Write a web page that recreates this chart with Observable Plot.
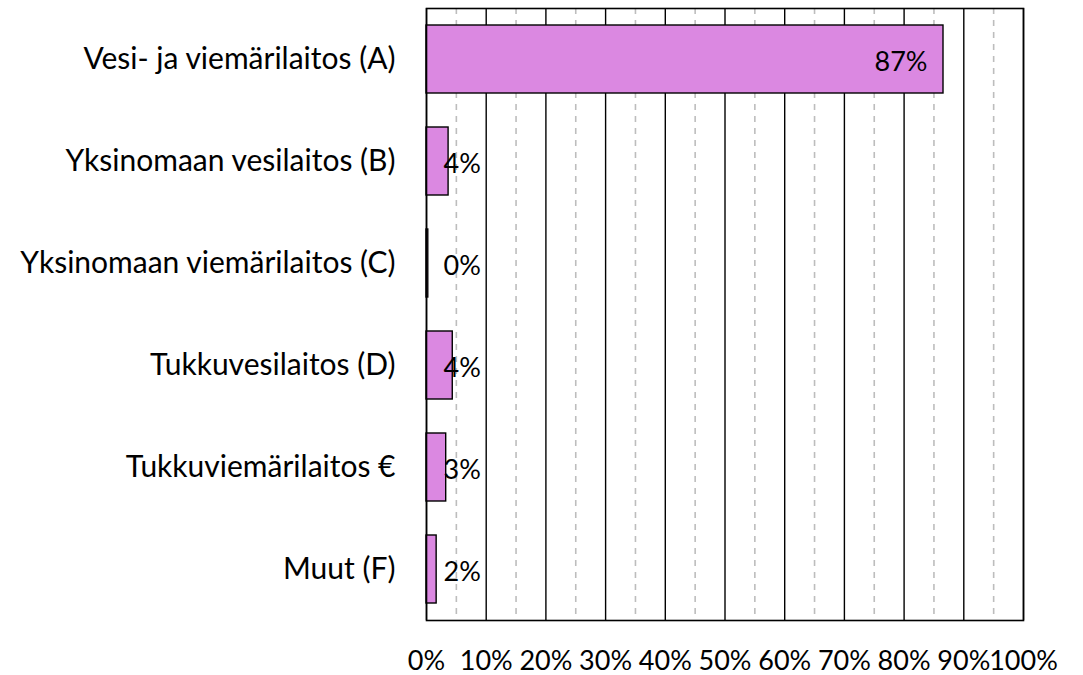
<!DOCTYPE html>
<html>
<head>
<meta charset="utf-8">
<script src="https://cdn.jsdelivr.net/npm/d3@7"></script>
<script src="https://cdn.jsdelivr.net/npm/@observablehq/plot@0.6"></script>
<style>
  html, body { margin: 0; padding: 0; background: #fff; }
  #chart svg { display: block; }
</style>
</head>
<body>
<div id="chart"></div>
<script>
const categories = [
  "Vesi- ja viemärilaitos (A)",
  "Yksinomaan vesilaitos (B)",
  "Yksinomaan viemärilaitos (C)",
  "Tukkuvesilaitos (D)",
  "Tukkuviemärilaitos €",
  "Muut (F)"
];
const values = [86.6, 3.7, 0.3, 4.4, 3.3, 1.7];
const valueLabels = ["87%", "4%", "0%", "4%", "3%", "2%"];
const majorTicks = [0, 10, 20, 30, 40, 50, 60, 70, 80, 90, 100];
const minorTicks = [5, 15, 25, 35, 45, 55, 65, 75, 85, 95];

const data = categories.map((c, i) => ({category: c, value: values[i], label: valueLabels[i]}));

const font = "Lato, 'Open Sans', sans-serif";

const chart = Plot.plot({
  width: 1083,
  height: 675,
  marginLeft: 426,
  marginRight: 60,
  marginTop: 8,
  marginBottom: 55,
  style: {fontFamily: font, fontSize: "27px", color: "#000", background: "#fff"},
  x: {domain: [0, 100], ticks: majorTicks, tickFormat: d => d + "%", tickSize: 0, tickPadding: 30, label: null},
  y: {domain: categories, paddingInner: 0.333, paddingOuter: 0.1665, tickSize: 0, tickPadding: 31, label: null},
  marks: [
    Plot.ruleX(minorTicks, {stroke: "#bdbdbd", strokeWidth: 1.6, strokeDasharray: "6,6"}),
    Plot.ruleX(majorTicks, {stroke: "#000", strokeWidth: 1.4}),
    Plot.barX(data, {y: "category", x: "value", fill: "#DB88E1", stroke: "#000", strokeWidth: 1.4}),
    Plot.text(data.filter(d => d.value >= 10), {y: "category", x: "value", text: "label", textAnchor: "end", dx: -16, dy: 3, fill: "#000", fontSize: 27}),
    Plot.text(data.filter(d => d.value < 10), {y: "category", x: () => 0, text: "label", textAnchor: "start", dx: 17, dy: 3, fill: "#000", fontSize: 27}),
    Plot.axisY({tickSize: 0, tickPadding: 31, fontSize: 30}),
    Plot.frame({stroke: "#000", strokeWidth: 1.6})
  ]
});
document.getElementById("chart").appendChild(chart);
</script>
</body>
</html>
